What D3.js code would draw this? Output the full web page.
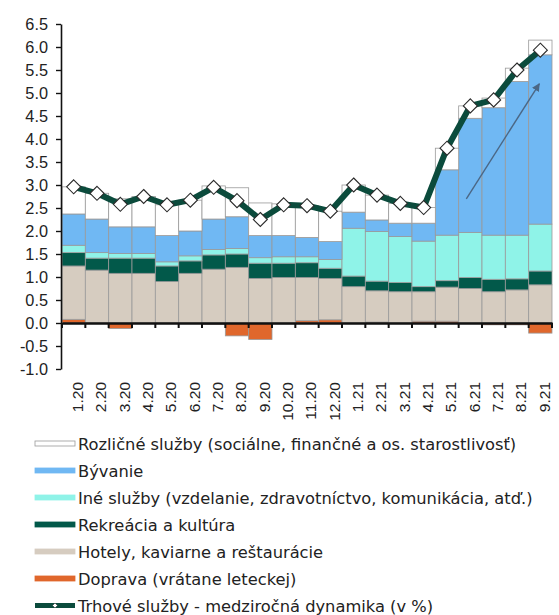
<!DOCTYPE html>
<html lang="sk">
<head>
    <meta charset="UTF-8">
    <title>Trhové služby</title>
    <script src="https://d3js.org/d3.v7.min.js"></script>
    <style>
        body { margin: 0; background: #fff; font-family: "DejaVu Sans", Verdana, sans-serif; }
        .axis text { font-size: 15.5px; fill: #222; }
        .yaxis text { font-size: 16.3px; }
        .legend text { font-size: 16.3px; fill: #222; }
    </style>
</head>
<body>
    <div id="chart"></div>
    <script>
        // months (x categories)
        const months = ["1.20", "2.20", "3.20", "4.20", "5.20", "6.20", "7.20", "8.20", "9.20", "10.20", "11.20", "12.20",
                        "1.21", "2.21", "3.21", "4.21", "5.21", "6.21", "7.21", "8.21", "9.21"];

        // contributions (p.b.)
        const doprava   = [0.08, 0.00, -0.12, 0.00, 0.00, 0.00, -0.03, -0.28, -0.36, -0.02, 0.05, 0.07, 0.00, 0.02, 0.00, 0.04, 0.04, 0.00, -0.04, -0.04, -0.22];
        const hotely    = [1.16, 1.15, 1.08, 1.08, 0.90, 1.08, 1.17, 1.21, 0.97, 0.99, 0.94, 0.90, 0.79, 0.68, 0.68, 0.64, 0.74, 0.75, 0.68, 0.72, 0.83];
        const rekreacia = [0.29, 0.26, 0.33, 0.33, 0.34, 0.27, 0.31, 0.29, 0.33, 0.31, 0.32, 0.22, 0.23, 0.21, 0.20, 0.11, 0.14, 0.24, 0.27, 0.24, 0.30];
        const ine       = [0.16, 0.12, 0.10, 0.10, 0.09, 0.11, 0.12, 0.12, 0.12, 0.14, 0.13, 0.19, 1.04, 1.08, 1.00, 0.99, 0.99, 0.98, 0.96, 0.95, 1.02];
        const byvanie   = [0.68, 0.73, 0.58, 0.58, 0.57, 0.54, 0.66, 0.69, 0.48, 0.46, 0.42, 0.39, 0.35, 0.25, 0.29, 0.39, 1.42, 2.48, 2.77, 3.34, 3.68];
        const rozlicne  = [0.59, 0.56, 0.61, 0.66, 0.67, 0.67, 0.72, 0.63, 0.71, 0.69, 0.69, 0.66, 0.59, 0.54, 0.43, 0.34, 0.47, 0.27, 0.21, 0.29, 0.32];

        // market services, y/y (%)
        const trhove    = [2.96, 2.82, 2.58, 2.75, 2.57, 2.67, 2.95, 2.66, 2.25, 2.57, 2.55, 2.43, 3.00, 2.78, 2.60, 2.51, 3.80, 4.72, 4.85, 5.50, 5.93];

        const yTicks = [-1.0, -0.5, 0.0, 0.5, 1.0, 1.5, 2.0, 2.5, 3.0, 3.5, 4.0, 4.5, 5.0, 5.5, 6.0, 6.5];

        // trend arrow (month, value)
        const arrowFrom = ["6.21", 2.7];
        const arrowTo = ["9.21", 5.2];

        const series = [
            { key: "doprava",   values: doprava,   color: "#e0672c", label: "Doprava (vrátane leteckej)" },
            { key: "hotely",    values: hotely,    color: "#d6ccc0", label: "Hotely, kaviarne a reštaurácie" },
            { key: "rekreacia", values: rekreacia, color: "#02594a", label: "Rekreácia a kultúra" },
            { key: "ine",       values: ine,       color: "#8ff3e8", label: "Iné služby (vzdelanie, zdravotníctvo, komunikácia, atď.)" },
            { key: "byvanie",   values: byvanie,   color: "#70b8f3", label: "Bývanie" },
            { key: "rozlicne",  values: rozlicne,  color: "#ffffff", label: "Rozličné služby (sociálne, finančné a os. starostlivosť)" }
        ];
        const lineColor = "#0b4b3c";

        const W = 559, H = 615;
        const svg = d3.select("#chart").append("svg").attr("width", W).attr("height", H);

        const x = d3.scaleBand().domain(months).range([62, 552]).padding(0);
        const y = d3.scaleLinear().domain([-1, 6.5]).range([369, 24]);

        const table = months.map((m, i) => {
            const row = { month: m };
            series.forEach(s => row[s.key] = s.values[i]);
            return row;
        });

        const stack = d3.stack()
            .keys(series.map(s => s.key))
            .offset(d3.stackOffsetDiverging);
        const layers = stack(table);

        svg.append("g").selectAll("g")
            .data(layers)
            .enter().append("g")
            .attr("fill", (d, i) => series[i].color)
            .selectAll("rect")
            .data(d => d)
            .enter().append("rect")
            .attr("x", d => x(d.data.month))
            .attr("width", x.bandwidth())
            .attr("y", d => y(Math.max(d[0], d[1])))
            .attr("height", d => Math.abs(y(d[0]) - y(d[1])))
            .attr("stroke", "#9a9a9a")
            .attr("stroke-width", 0.8);

        // y axis
        const yAxis = svg.append("g")
            .attr("class", "axis yaxis")
            .attr("transform", "translate(61,0)")
            .call(d3.axisLeft(y).tickValues(yTicks).tickFormat(d => d.toFixed(1)).tickSize(5).tickPadding(8).tickSizeOuter(0));
        yAxis.select(".domain").attr("stroke", "#111").attr("stroke-width", 1.6);
        yAxis.selectAll(".tick line").attr("stroke", "#111").attr("stroke-width", 1.4);

        // x axis at zero
        const xAxis = svg.append("g")
            .attr("class", "axis")
            .attr("transform", `translate(0,${y(0)})`)
            .call(d3.axisBottom(x).tickSize(0).tickSizeOuter(0));
        xAxis.select(".domain").attr("stroke", "#111").attr("stroke-width", 2.5);
        xAxis.selectAll(".tick text")
            .attr("transform", `translate(4,${y(-1) - y(0) + 13}) rotate(-90)`)
            .attr("x", 0).attr("y", 0).attr("dy", "0.35em")
            .style("text-anchor", "end");

        // tick marks between categories
        const bounds = months.map(m => x(m)).concat([x(months[months.length - 1]) + x.bandwidth()]);
        svg.append("g").selectAll("line")
            .data(bounds)
            .enter().append("line")
            .attr("x1", d => d).attr("x2", d => d)
            .attr("y1", y(0)).attr("y2", y(0) + 5)
            .attr("stroke", "#111").attr("stroke-width", 2);

        // line series
        const cx = m => x(m) + x.bandwidth() / 2;
        const line = d3.line().x((d, i) => cx(months[i])).y(d => y(d));
        svg.append("path")
            .datum(trhove)
            .attr("d", line)
            .attr("fill", "none")
            .attr("stroke", lineColor)
            .attr("stroke-width", 6)
            .attr("stroke-linejoin", "round");

        const diamond = r => `M0,${-r}L${r},0L0,${r}L${-r},0Z`;
        svg.append("g").selectAll("path")
            .data(trhove)
            .enter().append("path")
            .attr("d", diamond(7))
            .attr("transform", (d, i) => `translate(${cx(months[i])},${y(d)})`)
            .attr("fill", "#fff")
            .attr("stroke", "#2a2a2a")
            .attr("stroke-width", 1.1);

        // trend arrow
        const arrowColor = "#4b6785";
        svg.append("defs").append("marker")
            .attr("id", "head")
            .attr("viewBox", "0 0 10 10")
            .attr("refX", 9).attr("refY", 5)
            .attr("markerWidth", 8).attr("markerHeight", 8)
            .attr("markerUnits", "userSpaceOnUse")
            .attr("orient", "auto")
            .append("path").attr("d", "M0,0L10,5L0,10Z").attr("fill", arrowColor);
        svg.append("line")
            .attr("x1", cx(arrowFrom[0]) - 4).attr("y1", y(arrowFrom[1]))
            .attr("x2", cx(arrowTo[0]) - 1).attr("y2", y(arrowTo[1]))
            .attr("stroke", arrowColor).attr("stroke-width", 1.4)
            .attr("marker-end", "url(#head)");

        // legend
        const legendItems = series.slice().reverse().map(s => ({ label: s.label, color: s.color, type: "bar" }))
            .concat([{ label: "Trhové služby - medziročná dynamika (v %)", color: lineColor, type: "line" }]);

        const lg = svg.append("g").attr("class", "legend")
            .selectAll("g")
            .data(legendItems)
            .enter().append("g")
            .attr("transform", (d, i) => `translate(35,${445 + i * 27})`);

        lg.filter(d => d.type === "bar").append("rect")
            .attr("x", 0).attr("y", -4).attr("width", 40).attr("height", 5)
            .attr("fill", d => d.color)
            .attr("stroke", d => d.color === "#ffffff" ? "#999" : d.color)
            .attr("stroke-width", 0.8);

        const ll = lg.filter(d => d.type === "line");
        ll.append("line").attr("x1", 0).attr("x2", 40).attr("y1", -1.5).attr("y2", -1.5)
            .attr("stroke", lineColor).attr("stroke-width", 5);
        ll.append("path").attr("d", diamond(2.5)).attr("transform", "translate(20,-1.5)")
            .attr("fill", "#fff").attr("stroke", "#333").attr("stroke-width", 0.6);

        lg.append("text")
            .attr("x", 43).attr("y", 0).attr("dy", "0.32em")
            .text(d => d.label);
    </script>
</body>
</html>
